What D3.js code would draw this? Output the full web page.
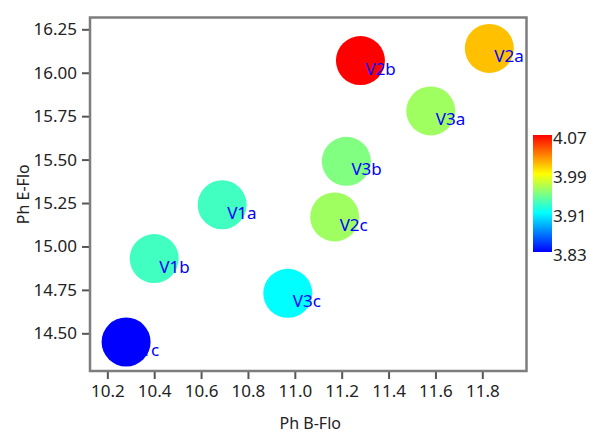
<!DOCTYPE html>
<html>
<head>
<meta charset="utf-8">
<script src="https://cdn.jsdelivr.net/npm/d3@7"></script>
<style>
  html, body { margin: 0; padding: 0; background: #fff; }
  svg { display: block; font-family: "Noto Sans", "Open Sans", sans-serif; }
</style>
</head>
<body>
<svg id="chart" width="590" height="435"></svg>
<script>
// Samples: Ph B-Flo (x), Ph E-Flo (y) and the colour variable
const names = ["V1a", "V1b", "V1c", "V2a", "V2b", "V2c", "V3a", "V3b", "V3c"];
const phB   = [10.69, 10.40, 10.28, 11.83, 11.28, 11.17, 11.58, 11.22, 10.97];
const phE   = [15.24, 14.93, 14.45, 16.14, 16.07, 15.17, 15.78, 15.49, 14.73];
const colorVal = [3.93, 3.93, 3.83, 4.01, 4.07, 3.96, 3.96, 3.95, 3.91];

const xTicks = [10.2, 10.4, 10.6, 10.8, 11.0, 11.2, 11.4, 11.6, 11.8];
const yTicks = [14.50, 14.75, 15.00, 15.25, 15.50, 15.75, 16.00, 16.25];
const colorTicks = [3.83, 3.91, 3.99, 4.07];

// Jet-like ramp: blue -> cyan -> green -> yellow -> orange -> red
const rampDomain = [3.83, 3.87, 3.91, 3.95, 3.99, 4.03, 4.07];
const rampColors = ["#0000ff", "#0080ff", "#00ffff", "#80ff80", "#ffff00", "#ff8000", "#ff0000"];

const svg = d3.select("#chart");
const plot = { left: 90, top: 17.5, right: 526.5, bottom: 371 };

const x = d3.scaleLinear().domain([10.126, 11.9886]).range([plot.left, plot.right]);
const y = d3.scaleLinear().domain([14.283, 16.318]).range([plot.bottom, plot.top]);
const color = d3.scaleLinear().domain(rampDomain).range(rampColors).clamp(true);

const rows = names.map((n, i) => ({ name: n, x: phB[i], y: phE[i], c: colorVal[i] }));

// Axes (ticks only; the frame is drawn separately)
const xAxis = svg.append("g")
  .attr("transform", `translate(0,${plot.bottom})`)
  .call(d3.axisBottom(x).tickValues(xTicks).tickFormat(d3.format(".1f")).tickSize(8).tickPadding(6));
const yAxis = svg.append("g")
  .attr("transform", `translate(${plot.left},0)`)
  .call(d3.axisLeft(y).tickValues(yTicks).tickFormat(d3.format(".2f")).tickSize(8).tickPadding(5));

[xAxis, yAxis].forEach(g => {
  g.select(".domain").remove();
  g.selectAll(".tick line").attr("stroke", "#555").attr("stroke-width", 2);
  g.selectAll(".tick text")
    .attr("fill", "#222")
    .style("font-size", "17px")
    .style("font-family", "\"Noto Sans\", sans-serif");
});

// Plot frame
svg.append("rect")
  .attr("x", plot.left).attr("y", plot.top)
  .attr("width", plot.right - plot.left).attr("height", plot.bottom - plot.top)
  .attr("fill", "none").attr("stroke", "#7d7d7d").attr("stroke-width", 2.5);

// Bubbles
svg.append("g").selectAll("circle")
  .data(rows).join("circle")
  .attr("cx", d => x(d.x)).attr("cy", d => y(d.y))
  .attr("r", 24.5)
  .attr("fill", d => color(d.c));

// Point labels
svg.append("g").selectAll("text")
  .data(rows).join("text")
  .attr("x", d => x(d.x) + 5).attr("y", d => y(d.y) + 14)
  .attr("fill", "#0000ff")
  .style("font-size", "17px")
  .text(d => d.name);

// Axis titles
svg.append("text")
  .attr("x", (plot.left + plot.right) / 2 + 2).attr("y", 429)
  .attr("text-anchor", "middle").attr("fill", "#222")
  .style("font-size", "16px")
  .text("Ph B-Flo");
svg.append("text")
  .attr("transform", `translate(29,${(plot.top + plot.bottom) / 2}) rotate(-90)`)
  .attr("text-anchor", "middle").attr("fill", "#222")
  .style("font-size", "16px")
  .text("Ph E-Flo");

// Colour bar
const bar = { x: 533, top: 135, bottom: 252, width: 19 };
const cbScale = d3.scaleLinear().domain([colorTicks[0], colorTicks[colorTicks.length - 1]]).range([bar.bottom, bar.top]);
const grad = svg.append("defs").append("linearGradient")
  .attr("id", "cbar").attr("x1", 0).attr("y1", 1).attr("x2", 0).attr("y2", 0);
grad.selectAll("stop")
  .data(rampDomain).join("stop")
  .attr("offset", d => (d - rampDomain[0]) / (rampDomain[rampDomain.length - 1] - rampDomain[0]))
  .attr("stop-color", d => color(d));
svg.append("rect")
  .attr("x", bar.x).attr("y", bar.top)
  .attr("width", bar.width).attr("height", bar.bottom - bar.top)
  .attr("fill", "url(#cbar)");
svg.append("g").selectAll("text")
  .data(colorTicks).join("text")
  .attr("x", bar.x + bar.width + 1)
  .attr("y", d => cbScale(d) + 3)
  .attr("dy", "0.35em")
  .attr("fill", "#222")
  .style("font-size", "17px")
  .text(d => d3.format(".2f")(d));
</script>
</body>
</html>
